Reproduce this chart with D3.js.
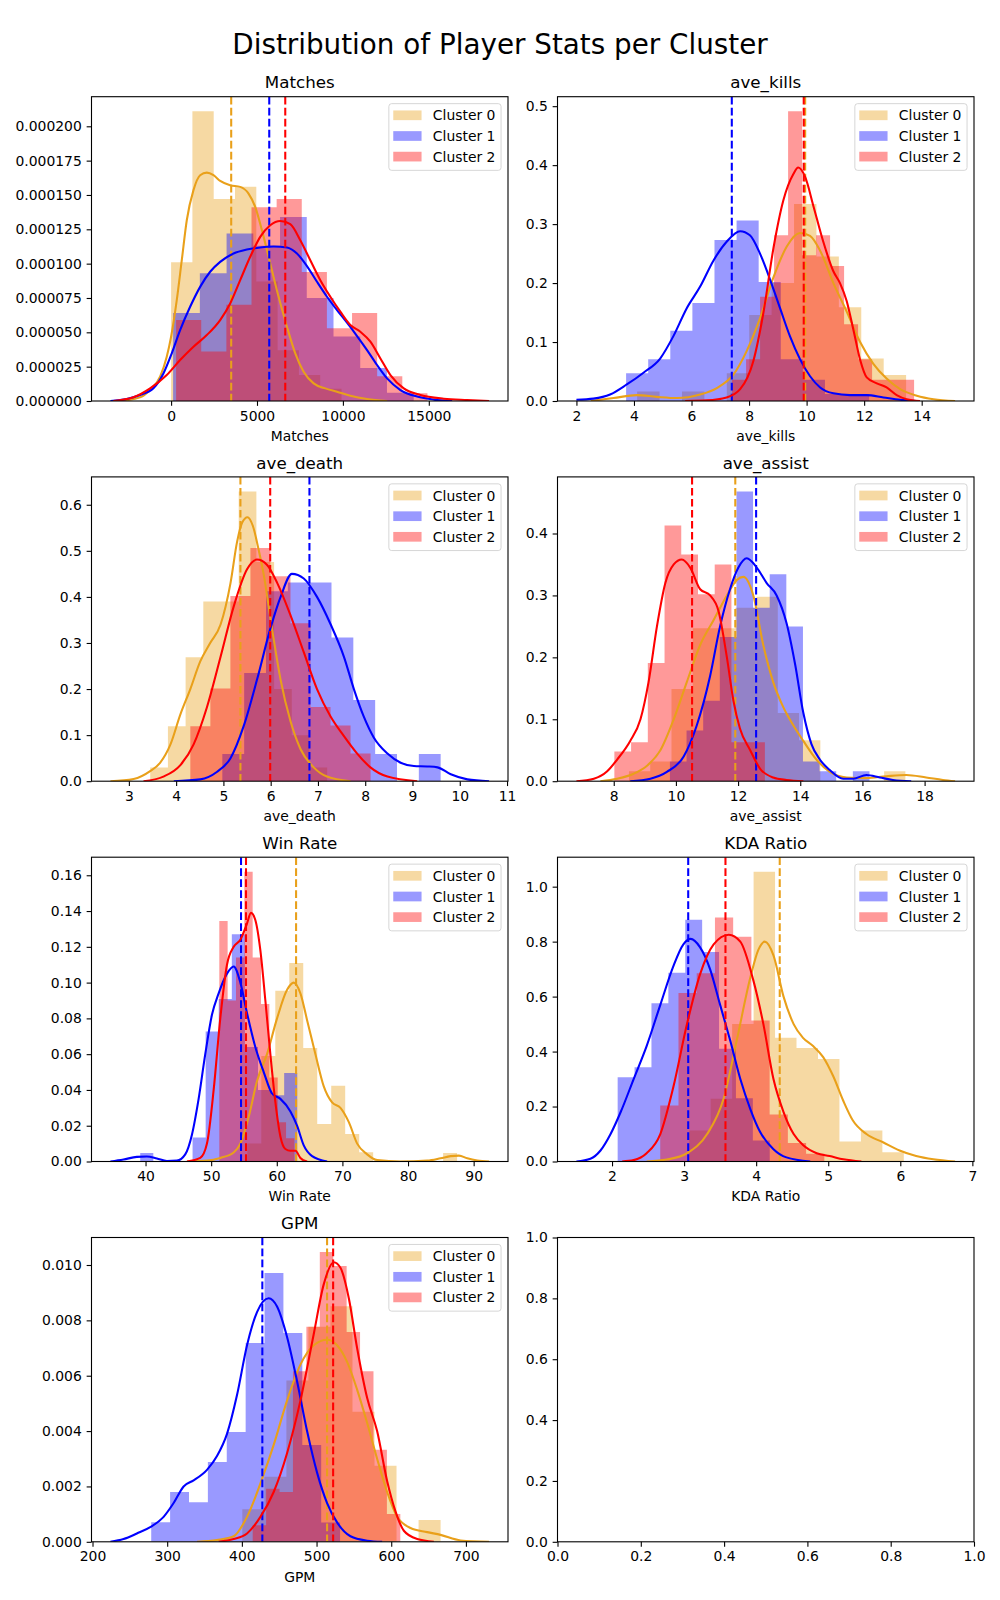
<!DOCTYPE html>
<html><head><meta charset="utf-8">
<script src="https://cdn.jsdelivr.net/npm/d3@7"></script>
<style>
body{margin:0;background:#fff}
svg{display:block}
text{font-family:"DejaVu Sans",sans-serif;fill:#000}
</style>
</head><body>
<svg id="fig" width="1000" height="1600"></svg>
<script>
// ---------------- DATA ----------------
const figTitle = "Distribution of Player Stats per Cluster";
const clusterNames = ["Cluster 0", "Cluster 1", "Cluster 2"];
const panelTitles = ["Matches", "ave_kills", "ave_death", "ave_assist", "Win Rate", "KDA Ratio", "GPM"];

// Matches
const matchesXTicks = [0, 5000, 10000, 15000];
const matchesYTicks = [0, 0.000025, 0.00005, 0.000075, 0.0001, 0.000125, 0.00015, 0.000175, 0.0002];
const matchesHistLo = [0, 117, 291];
const matchesHistWidth = [1240, 1556, 1463];
const matchesHist0 = [1.01e-4, 2.11e-4, 1.47e-4, 1.56e-4, 0.87e-4, 0.37e-4, 0.19e-4, 0.09e-4];
const matchesHist1 = [6.4e-5, 9.3e-5, 1.22e-4, 1.13e-4, 1.34e-4, 7.5e-5, 4.7e-5, 2.4e-5, 6e-6];
const matchesHist2 = [5.9e-5, 3.6e-5, 7.0e-5, 1.41e-4, 1.47e-4, 9.4e-5, 5.3e-5, 6.4e-5, 1.8e-5, 5.6e-6];
const matchesKde0 = [[-2973,0],[-1807,2.7e-6],[-1224,8.0e-6],[-641,1.77e-5],[-253,3.22e-5],[0,4.68e-5],[330,7.35e-5],[622,1.025e-4],[913,1.316e-4],[1302,1.535e-4],[1690,1.644e-4],[2079,1.663e-4],[2468,1.644e-4],[2856,1.602e-4],[3439,1.571e-4],[4022,1.559e-4],[4508,1.51e-4],[4897,1.413e-4],[5285,1.244e-4],[5771,1.001e-4],[6257,7.59e-5],[6743,5.41e-5],[7228,3.47e-5],[7714,2.13e-5],[8297,1.28e-5],[8977,9.2e-6],[9657,6.8e-6],[10434,3.9e-6],[11406,1.5e-6],[12572,0]];
const matchesKde1 = [[-3531,0],[-2584,1.5e-6],[-1807,4.4e-6],[-1030,9.2e-6],[-447,2.0e-5],[39,3.47e-5],[525,5.16e-5],[1108,6.86e-5],[1690,8.31e-5],[2273,9.41e-5],[2856,1.013e-4],[3634,1.074e-4],[4411,1.103e-4],[5188,1.118e-4],[5965,1.125e-4],[6743,1.118e-4],[7326,1.074e-4],[7909,9.82e-5],[8492,8.68e-5],[9075,7.59e-5],[9657,6.62e-5],[10240,5.7e-5],[10823,4.73e-5],[11406,3.71e-5],[11989,2.62e-5],[12572,1.65e-5],[13349,8.0e-6],[14321,3.2e-6],[15293,1.0e-6],[16360,0]];
const matchesKde2 = [[-3361,0],[-2196,2.7e-6],[-1224,9.2e-6],[-253,1.89e-5],[525,2.98e-5],[1302,3.95e-5],[2079,4.8e-5],[2856,5.89e-5],[3439,7.1e-5],[4022,8.8e-5],[4605,1.05e-4],[5188,1.195e-4],[5771,1.28e-4],[6354,1.311e-4],[6937,1.287e-4],[7520,1.171e-4],[8103,1.025e-4],[8686,8.8e-5],[9269,7.59e-5],[9851,6.5e-5],[10434,5.53e-5],[11017,5.04e-5],[11600,4.32e-5],[12183,3.1e-5],[12766,1.89e-5],[13543,9.2e-6],[14515,4.4e-6],[15875,1.7e-6],[17235,7e-7],[18508,0]];
const matchesMeans = [3498, 5713, 6645];

// ave_kills
const killsXTicks = [2, 4, 6, 8, 10, 12, 14];
const killsYTicks = [0, 0.1, 0.2, 0.3, 0.4, 0.5];
const killsHistLo = [4.11, 3.726, 7.41];
const killsHistWidth = [0.779, 0.768, 0.4866];
const killsHist0 = [0.016, 0, 0.016, 0, 0.047, 0.146, 0.20, 0.334, 0.245, 0.159, 0.072, 0.044];
const killsHist1 = [0.047, 0.071, 0.119, 0.166, 0.273, 0.306, 0.202, 0.071, 0.036, 0.012, 0.012];
const killsHist2 = [0.036, 0.071, 0.177, 0.281, 0.4915, 0.247, 0.281, 0.229, 0.13, 0.071, 0.036, 0.036, 0.036];
const killsKde0 = [[2.5,0],[3.29,0.005],[4.10,0.010],[4.79,0.007],[5.49,0.005],[6.30,0.011],[6.88,0.022],[7.46,0.045],[7.92,0.085],[8.38,0.14],[8.85,0.21],[9.31,0.262],[9.77,0.285],[10.12,0.28],[10.47,0.255],[10.93,0.2],[11.39,0.152],[11.86,0.1],[12.32,0.063],[12.78,0.038],[13.25,0.02],[13.83,0.009],[14.41,0.003],[15.16,0]];
const killsKde1 = [[2.0,0.002],[2.59,0.004],[3.17,0.011],[3.75,0.028],[4.33,0.048],[4.91,0.072],[5.37,0.11],[5.83,0.157],[6.30,0.194],[6.76,0.238],[7.22,0.27],[7.69,0.288],[8.03,0.281],[8.38,0.25],[8.73,0.206],[9.08,0.157],[9.42,0.11],[9.77,0.071],[10.12,0.042],[10.47,0.023],[10.93,0.013],[11.51,0.01],[12.09,0.01],[12.67,0.006],[13.25,0.002],[13.83,0]];
const killsKde2 = [[5.78,0],[6.53,0.001],[7.22,0.006],[7.69,0.02],[8.15,0.068],[8.5,0.15],[8.85,0.26],[9.19,0.34],[9.54,0.385],[9.71,0.396],[9.95,0.38],[10.24,0.33],[10.58,0.27],[10.93,0.22],[11.16,0.2],[11.39,0.17],[11.63,0.12],[11.86,0.07],[12.09,0.04],[12.44,0.03],[12.78,0.023],[13.13,0.01],[13.48,0.003],[13.94,0]];
const killsMeans = [9.95, 7.40, 9.90];

// ave_death
const deathXTicks = [3, 4, 5, 6, 7, 8, 9, 10, 11];
const deathYTicks = [0, 0.1, 0.2, 0.3, 0.4, 0.5, 0.6];
const deathHistLo = [3.452, 4.977, 4.30];
const deathHistWidth = [0.3743, 0.4619, 0.4237];
const deathHist0 = [0.03, 0.119, 0.269, 0.39, 0.39, 0.629, 0.476, 0.2, 0.1, 0.03];
const deathHist1 = [0.059, 0.235, 0.412, 0.431, 0.431, 0.312, 0.176, 0.059, 0, 0.059];
const deathHist2 = [0.119, 0.201, 0.402, 0.506, 0.445, 0.343, 0.161, 0.121, 0.06];
const deathKde0 = [[2.61,0],[3.10,0.005],[3.45,0.022],[3.66,0.04],[3.88,0.08],[4.09,0.145],[4.30,0.2],[4.51,0.26],[4.72,0.3],[4.94,0.34],[5.15,0.43],[5.29,0.52],[5.40,0.562],[5.51,0.573],[5.62,0.555],[5.75,0.5],[5.85,0.45],[6.03,0.33],[6.21,0.22],[6.42,0.13],[6.63,0.07],[6.91,0.03],[7.19,0.01],[7.69,0]];
const deathKde1 = [[3.95,0],[4.51,0.004],[4.86,0.02],[5.15,0.05],[5.43,0.12],[5.71,0.22],[5.99,0.33],[6.21,0.4],[6.45,0.45],[6.70,0.44],[6.98,0.4],[7.27,0.34],[7.55,0.27],[7.76,0.2],[7.97,0.14],[8.18,0.095],[8.47,0.06],[8.75,0.04],[9.03,0.033],[9.31,0.032],[9.53,0.03],[9.81,0.015],[10.16,0.004],[10.62,0]];
const deathKde2 = [[3.31,0],[3.73,0.01],[4.09,0.035],[4.37,0.08],[4.65,0.16],[4.94,0.27],[5.22,0.38],[5.50,0.46],[5.71,0.481],[5.92,0.47],[6.14,0.43],[6.42,0.36],[6.70,0.28],[6.98,0.2],[7.27,0.14],[7.55,0.098],[7.83,0.06],[8.11,0.03],[8.47,0.01],[9.10,0]];
const deathMeans = [5.36, 6.82, 5.99];

// ave_assist
const assistXTicks = [8, 10, 12, 14, 16, 18];
const assistYTicks = [0, 0.1, 0.2, 0.3, 0.4];
const assistHistLo = [8.49, 9.807, 8.02];
const assistHistWidth = [0.684, 0.535, 0.538];
const assistHist0 = [0.016, 0.032, 0.149, 0.247, 0.247, 0.28, 0.298, 0.11, 0.066, 0, 0, 0, 0.016];
const assistHist1 = [0.032, 0.082, 0.13, 0.233, 0.468, 0.28, 0.334, 0.25, 0.032, 0.016, 0, 0.016];
const assistHist2 = [0.048, 0.063, 0.191, 0.413, 0.366, 0.302, 0.35, 0.063, 0.063];
const assistKde0 = [[7.57,0],[8.11,0.004],[8.64,0.012],[9.07,0.025],[9.50,0.05],[9.93,0.1],[10.35,0.16],[10.78,0.22],[11.21,0.26],[11.64,0.3],[11.96,0.325],[12.17,0.33],[12.49,0.3],[12.81,0.22],[13.13,0.16],[13.45,0.12],[13.78,0.09],[14.10,0.065],[14.52,0.035],[14.95,0.015],[15.49,0.006],[16.13,0.005],[16.77,0.008],[17.41,0.01],[18.05,0.006],[18.59,0.002],[18.98,0]];
const assistKde1 = [[8.53,0],[9.18,0.004],[9.71,0.015],[10.25,0.04],[10.67,0.09],[11.10,0.17],[11.42,0.25],[11.74,0.31],[12.01,0.345],[12.28,0.36],[12.60,0.345],[12.92,0.32],[13.24,0.3],[13.56,0.255],[13.83,0.19],[14.10,0.11],[14.36,0.06],[14.63,0.035],[14.95,0.018],[15.38,0.004],[15.70,0.004],[16.13,0.01],[16.56,0.006],[16.98,0.002],[17.57,0]];
const assistKde2 = [[6.80,0],[7.36,0.004],[7.79,0.016],[8.11,0.035],[8.53,0.065],[8.86,0.1],[9.12,0.16],[9.39,0.25],[9.66,0.32],[9.93,0.35],[10.19,0.358],[10.46,0.345],[10.78,0.31],[11.10,0.3],[11.37,0.275],[11.64,0.2],[11.85,0.13],[12.06,0.085],[12.39,0.05],[12.71,0.02],[13.13,0.006],[13.56,0.002],[14.10,0]];
const assistMeans = [11.91, 12.58, 10.52];

// Win Rate
const winXTicks = [40, 50, 60, 70, 80, 90];
const winYTicks = [0, 0.02, 0.04, 0.06, 0.08, 0.10, 0.12, 0.14, 0.16];
const winHistLo = [55.51, 39.19, 51.24];
const winHistWidth = [2.131, 1.994, 1.2716];
const winHist0 = [0.01, 0.059, 0.0954, 0.111, 0.0634, 0.021, 0.0424, 0.0154, 0.0052, 0, 0, 0, 0, 0, 0.0048];
const winHist1 = [0.0047, 0, 0, 0, 0.0134, 0.0726, 0.0908, 0.127, 0.064, 0.04, 0.037, 0.0495];
const winHist2 = [0.1345, 0.09, 0.114, 0.162, 0.114, 0.088, 0.047, 0.022, 0.013];
const winKde0 = [[46.31,0],[49.36,0.0005],[51.39,0.002],[53.43,0.005],[54.45,0.01],[55.72,0.025],[56.99,0.045],[58.51,0.06],[60.04,0.08],[61.57,0.096],[62.58,0.1],[63.60,0.094],[64.62,0.079],[65.89,0.06],[67.16,0.042],[68.43,0.033],[69.70,0.03],[70.98,0.022],[72.25,0.01],[73.77,0.004],[75.30,0.0008],[78.86,0],[82.93,0.0005],[84.96,0.0018],[86.49,0.003],[87.76,0.0033],[89.03,0.0018],[90.56,0.0006],[92.35,0]];
const winKde1 = [[34.65,0],[36.64,0.0011],[38.68,0.0026],[40.20,0.0028],[41.73,0.0017],[43.26,0.0003],[44.78,0.0005],[46.05,0.004],[47.07,0.015],[48.09,0.035],[49.10,0.06],[50.12,0.082],[51.14,0.094],[52.41,0.105],[53.43,0.109],[54.45,0.1],[55.46,0.083],[56.73,0.064],[58.01,0.05],[59.28,0.038],[60.55,0.035],[62.08,0.028],[63.09,0.02],[64.11,0.009],[65.38,0.003],[67.67,0]];
const winKde2 = [[46.31,0],[48.34,0.002],[49.36,0.01],[50.38,0.04],[51.39,0.08],[52.41,0.11],[53.43,0.12],[54.45,0.124],[55.46,0.133],[56.07,0.139],[56.73,0.135],[57.50,0.118],[58.26,0.09],[59.02,0.06],[59.79,0.033],[60.55,0.014],[61.31,0.007],[62.08,0.006],[62.84,0.006],[63.60,0.002],[64.62,0]];
const winMeans = [62.94, 54.55, 55.31];

// KDA Ratio
const kdaXTicks = [2, 3, 4, 5, 6, 7];
const kdaYTicks = [0, 0.2, 0.4, 0.6, 0.8, 1.0];
const kdaHistLo = [3.071, 2.078, 2.669];
const kdaHistWidth = [0.2978, 0.2345, 0.253];
const kdaHist0 = [0.113, 0.228, 0.5, 1.0545, 0.45, 0.413, 0.373, 0.073, 0.113, 0.034];
const kdaHist1 = [0.307, 0.343, 0.576, 0.687, 0.88, 0.762, 0.41, 0.23, 0.076];
const kdaHist2 = [0.204, 0.613, 0.685, 0.888, 0.818, 0.513, 0.171, 0.067, 0.028];
const kdaKde0 = [[2.48,0],[2.76,0.007],[3.04,0.03],[3.32,0.1],[3.55,0.23],[3.73,0.44],[3.92,0.67],[4.03,0.77],[4.12,0.8],[4.24,0.75],[4.38,0.6],[4.52,0.5],[4.65,0.45],[4.79,0.42],[4.93,0.38],[5.07,0.31],[5.21,0.22],[5.34,0.15],[5.53,0.1],[5.76,0.07],[5.99,0.04],[6.22,0.02],[6.46,0.008],[6.76,0]];
const kdaKde1 = [[1.506,0],[1.70,0.01],[1.84,0.04],[1.98,0.1],[2.12,0.18],[2.30,0.3],[2.48,0.42],[2.67,0.57],[2.85,0.71],[2.99,0.79],[3.09,0.81],[3.22,0.78],[3.36,0.7],[3.50,0.57],[3.64,0.44],[3.78,0.3],[3.92,0.19],[4.05,0.11],[4.24,0.045],[4.42,0.015],[4.75,0]];
const kdaKde2 = [[2.14,0],[2.30,0.005],[2.48,0.03],[2.67,0.1],[2.85,0.27],[3.04,0.5],[3.22,0.68],[3.41,0.79],[3.62,0.825],[3.78,0.8],[3.96,0.66],[4.10,0.5],[4.24,0.3],[4.38,0.18],[4.52,0.1],[4.65,0.06],[4.84,0.03],[5.02,0.02],[5.21,0.008],[5.46,0]];
const kdaMeans = [4.327, 3.057, 3.574];

// GPM
const gpmXTicks = [200, 300, 400, 500, 600, 700];
const gpmYTicks = [0, 0.002, 0.004, 0.006, 0.008, 0.010];
const gpmHistLo = [400.6, 278.6, 414.5];
const gpmHistWidth = [29.5, 25.29, 17.97];
const gpmHist0 = [0.00118, 0.00235, 0.00583, 0.00777, 0.00851, 0.0047, 0.00275, 0, 0.00079];
const gpmHist1 = [0.00071, 0.0018, 0.00143, 0.00288, 0.00397, 0.00718, 0.00971, 0.00754, 0.0035, 0.0007];
const gpmHist2 = [0.0006, 0.00192, 0.0018, 0.00616, 0.00777, 0.01047, 0.00996, 0.00758, 0.00616, 0.00333, 0.001];
const gpmKde0 = [[339.9,0],[366.7,0.00006],[389,0.0002],[406.9,0.0009],[427.4,0.0023],[442.6,0.0035],[460.5,0.0051],[478.4,0.0064],[496.2,0.0071],[514.1,0.0073],[527.5,0.0071],[540.9,0.0065],[554.3,0.0055],[567.7,0.0043],[581.1,0.003],[594.5,0.0018],[607.9,0.0009],[625.8,0.0005],[648.2,0.00035],[666,0.00025],[692.9,0.00005],[731,0]];
const gpmKde1 = [[224,0],[241.6,0.0001],[259.4,0.0003],[277.3,0.00053],[295.2,0.0009],[308.6,0.0014],[322,0.002],[335.4,0.00222],[353.3,0.0026],[366.7,0.0031],[380.1,0.0039],[393.5,0.0053],[406.9,0.0071],[420.3,0.0083],[435.9,0.0088],[447.1,0.0085],[460.5,0.0074],[473.9,0.0058],[487.3,0.004],[500.7,0.0025],[514.1,0.0014],[527.5,0.0007],[545.4,0.0002],[567.7,0.00004],[587.8,0]];
const gpmKde2 = [[368.9,0],[389,0.0001],[406.9,0.0003],[424.8,0.0009],[442.6,0.0018],[460.5,0.0032],[478.4,0.0051],[496.2,0.0075],[509.6,0.0093],[523.1,0.0101],[532,0.0099],[543.2,0.0088],[554.3,0.007],[567.7,0.0052],[581.1,0.004],[594.5,0.0022],[605.7,0.0011],[616.9,0.0004],[634.8,0.0001],[657.1,0]];
const gpmMeans = [514.1, 427.4, 522.2];

// empty axes
const emptyTicks = [0, 0.2, 0.4, 0.6, 0.8, 1.0];

// ---------------- STYLE ----------------
const lineColors = ["#E9A01A", "#0000FF", "#FF0000"];
const histColors = ["#E9A01A", "#0000FF", "#FF0000"];

const panels = [
  {title: panelTitles[0], xt: matchesXTicks, yt: matchesYTicks, yf: ".6f", lo: matchesHistLo, w: matchesHistWidth, hist: [matchesHist0, matchesHist1, matchesHist2], kde: [matchesKde0, matchesKde1, matchesKde2], means: matchesMeans, xf: "d"},
  {title: panelTitles[1], xt: killsXTicks, yt: killsYTicks, yf: ".1f", lo: killsHistLo, w: killsHistWidth, hist: [killsHist0, killsHist1, killsHist2], kde: [killsKde0, killsKde1, killsKde2], means: killsMeans, xf: "d"},
  {title: panelTitles[2], xt: deathXTicks, yt: deathYTicks, yf: ".1f", lo: deathHistLo, w: deathHistWidth, hist: [deathHist0, deathHist1, deathHist2], kde: [deathKde0, deathKde1, deathKde2], means: deathMeans, xf: "d"},
  {title: panelTitles[3], xt: assistXTicks, yt: assistYTicks, yf: ".1f", lo: assistHistLo, w: assistHistWidth, hist: [assistHist0, assistHist1, assistHist2], kde: [assistKde0, assistKde1, assistKde2], means: assistMeans, xf: "d"},
  {title: panelTitles[4], xt: winXTicks, yt: winYTicks, yf: ".2f", lo: winHistLo, w: winHistWidth, hist: [winHist0, winHist1, winHist2], kde: [winKde0, winKde1, winKde2], means: winMeans, xf: "d"},
  {title: panelTitles[5], xt: kdaXTicks, yt: kdaYTicks, yf: ".1f", lo: kdaHistLo, w: kdaHistWidth, hist: [kdaHist0, kdaHist1, kdaHist2], kde: [kdaKde0, kdaKde1, kdaKde2], means: kdaMeans, xf: "d"},
  {title: panelTitles[6], xt: gpmXTicks, yt: gpmYTicks, yf: ".3f", lo: gpmHistLo, w: gpmHistWidth, hist: [gpmHist0, gpmHist1, gpmHist2], kde: [gpmKde0, gpmKde1, gpmKde2], means: gpmMeans, xf: "d"}
];

// ---------------- LAYOUT ----------------
const svg = d3.select("#fig");
const colX = [91.5, 557.5];
const rowY = [96.7, 476.9, 857.2, 1237.5];
const W = 416.5, H = 304.3;
const FS = 13.9;

svg.append("text").attr("x", 500).attr("y", 54).attr("text-anchor", "middle")
  .style("font-size", "27.8px").text(figTitle);

function styleAxis(ax) {
  ax.select(".domain").remove();
  ax.selectAll(".tick line").attr("stroke", "#000").attr("stroke-width", 1.1);
  ax.selectAll(".tick text").style("font-size", FS + "px").style("font-family", "DejaVu Sans").attr("fill", "#000");
  ax.attr("font-size", null).attr("font-family", null);
}

function drawAxes(g, x, y, xt, yt, xf, yf) {
  const ax = g.append("g").attr("transform", `translate(0,${H})`)
    .call(d3.axisBottom(x).tickValues(xt).tickFormat(d3.format(xf)).tickSizeOuter(0).tickSize(4.86).tickPadding(4.86));
  styleAxis(ax);
  const ay = g.append("g")
    .call(d3.axisLeft(y).tickValues(yt).tickFormat(d3.format(yf)).tickSizeOuter(0).tickSize(4.86).tickPadding(4.86));
  styleAxis(ay);
  g.append("rect").attr("x", 0).attr("y", 0).attr("width", W).attr("height", H)
    .attr("fill", "none").attr("stroke", "#000").attr("stroke-width", 1.1);
}

panels.forEach((p, i) => {
  const col = i % 2, row = Math.floor(i / 2);
  const g = svg.append("g").attr("transform", `translate(${colX[col]},${rowY[row]})`);
  const xs = p.kde.flat().map(d => d[0]);
  p.hist.forEach((h, c) => { xs.push(p.lo[c]); xs.push(p.lo[c] + h.length * p.w[c]); });
  const xmin = d3.min(xs), xmax = d3.max(xs), pad = (xmax - xmin) * 0.05;
  const x = d3.scaleLinear().domain([xmin - pad, xmax + pad]).range([0, W]);
  const ymax = d3.max(p.hist.flat());
  const y = d3.scaleLinear().domain([0, ymax * 1.05]).range([H, 0]);

  const clipId = "clip" + i;
  g.append("clipPath").attr("id", clipId).append("rect").attr("width", W).attr("height", H);
  const plot = g.append("g").attr("clip-path", `url(#${clipId})`);

  const line = d3.line().x(d => x(d[0])).y(d => y(d[1])).curve(d3.curveMonotoneX);

  // patches (histograms) first, like matplotlib zorder
  for (let c = 0; c < 3; c++) {
    let d = "";
    p.hist[c].forEach((h, k) => {
      if (h <= 0) return;
      const a = x(p.lo[c] + k * p.w[c]), b = x(p.lo[c] + (k + 1) * p.w[c]);
      d += `M${a},${y(0)}V${y(h)}H${b}V${y(0)}Z`;
    });
    plot.append("path").attr("d", d).attr("fill", histColors[c]).attr("fill-opacity", 0.4);
  }
  // then lines: kde + mean line per cluster
  for (let c = 0; c < 3; c++) {
    plot.append("path").datum(p.kde[c]).attr("d", line)
      .attr("fill", "none").attr("stroke", lineColors[c]).attr("stroke-width", 2.08);
    plot.append("line").attr("x1", x(p.means[c])).attr("x2", x(p.means[c]))
      .attr("y1", 0).attr("y2", H)
      .attr("stroke", lineColors[c]).attr("stroke-width", 2.08).attr("stroke-dasharray", "7.7,3.3");
  }

  drawAxes(g, x, y, p.xt, p.yt, p.xf, p.yf);

  g.append("text").attr("x", W / 2).attr("y", -8.3).attr("text-anchor", "middle")
    .style("font-size", "16.7px").text(p.title);
  g.append("text").attr("x", W / 2).attr("y", H + 40).attr("text-anchor", "middle")
    .style("font-size", FS + "px").text(p.title);

  // legend
  const LW = 112.2, LH = 66.7;
  const lg = g.append("g").attr("transform", `translate(${W - 6.95 - LW},6.95)`);
  lg.append("rect").attr("width", LW).attr("height", LH).attr("rx", 2.8).attr("ry", 2.8)
    .attr("fill", "#fff").attr("fill-opacity", 0.8).attr("stroke", "#cccccc").attr("stroke-opacity", 0.8).attr("stroke-width", 1);
  const rowsY = [11.7, 32.4, 53.0];
  clusterNames.forEach((n, c) => {
    lg.append("rect").attr("x", 4.4).attr("y", rowsY[c] - 4.9).attr("width", 28.3).attr("height", 9.7)
      .attr("fill", histColors[c]).attr("fill-opacity", 0.4);
    lg.append("text").attr("x", 44).attr("y", rowsY[c]).attr("dy", "0.36em")
      .style("font-size", FS + "px").text(n);
  });
});

// empty 8th axes
{
  const g = svg.append("g").attr("transform", `translate(${colX[1]},${rowY[3]})`);
  const x = d3.scaleLinear().domain([0, 1]).range([0, W]);
  const y = d3.scaleLinear().domain([0, 1]).range([H, 0]);
  drawAxes(g, x, y, emptyTicks, emptyTicks, ".1f", ".1f");
}
</script>
</body></html>
